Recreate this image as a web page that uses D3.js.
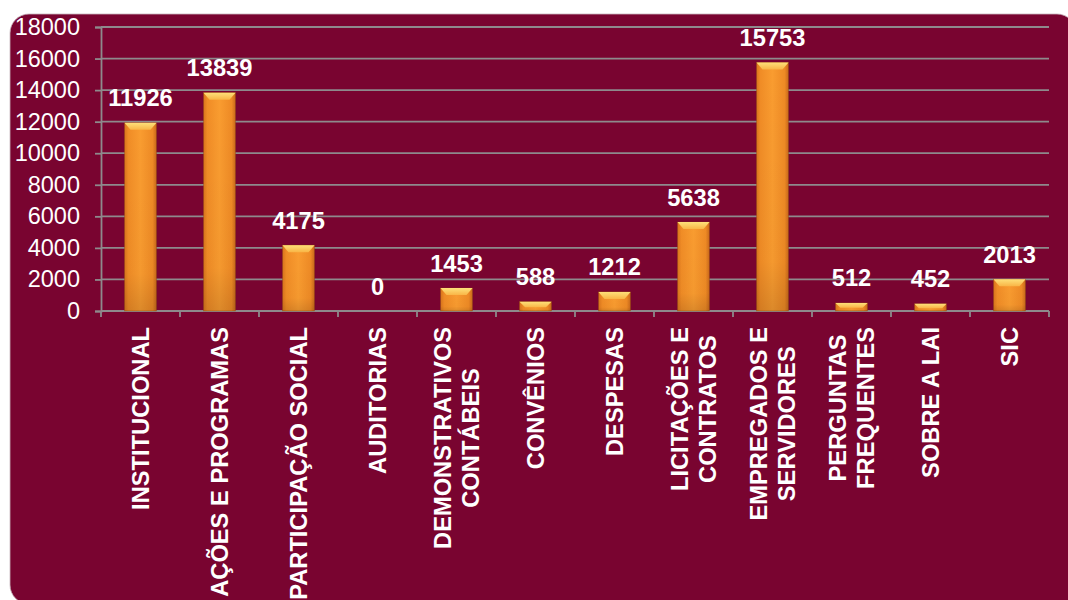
<!DOCTYPE html>
<html>
<head>
<meta charset="utf-8">
<script src="https://cdn.jsdelivr.net/npm/d3@7"></script>
<style>
  html, body { margin: 0; padding: 0; background: #ffffff; overflow: hidden; }
  svg { display: block; }
</style>
</head>
<body>
<svg id="chart" width="1068" height="600"></svg>
<script>
// Page views per section of the transparency portal
const categories = [
  ["INSTITUCIONAL"],
  ["AÇÕES E PROGRAMAS"],
  ["PARTICIPAÇÃO SOCIAL"],
  ["AUDITORIAS"],
  ["DEMONSTRATIVOS", "CONTÁBEIS"],
  ["CONVÊNIOS"],
  ["DESPESAS"],
  ["LICITAÇÕES E", "CONTRATOS"],
  ["EMPREGADOS E", "SERVIDORES"],
  ["PERGUNTAS", "FREQUENTES"],
  ["SOBRE A LAI"],
  ["SIC"]
];
const values = [11926, 13839, 4175, 0, 1453, 588, 1212, 5638, 15753, 512, 452, 2013];
const yTicks = [0, 2000, 4000, 6000, 8000, 10000, 12000, 14000, 16000, 18000];

const W = 1068, H = 600;
const plot = { left: 101, right: 1049, top: 27, bottom: 311 };
const FONT = "'Liberation Sans', Arial, sans-serif";
const gridColor = "#8e8a8c";

const svg = d3.select("#chart");
const defs = svg.append("defs");

// Bar body: darker edges, bright centre
const body = defs.append("linearGradient").attr("id", "barBody")
  .attr("x1", "0").attr("x2", "1").attr("y1", "0").attr("y2", "0");
[[0, "#d9741c"], [0.12, "#f08c26"], [0.5, "#f99c30"], [0.88, "#ee8a25"], [1, "#c8681a"]]
  .forEach(([o, c]) => body.append("stop").attr("offset", o).attr("stop-color", c));

// Vertical shading so the foot of each bar is a little darker
const shade = defs.append("linearGradient").attr("id", "barShade")
  .attr("x1", "0").attr("x2", "0").attr("y1", "0").attr("y2", "1");
[[0, "#000", 0], [0.8, "#000", 0.02], [1, "#000", 0.12]]
  .forEach(([o, c, a]) => shade.append("stop").attr("offset", o).attr("stop-color", c).attr("stop-opacity", a));

// Top bevel
const bevel = defs.append("linearGradient").attr("id", "barBevel")
  .attr("x1", "0").attr("x2", "0").attr("y1", "0").attr("y2", "1");
[[0, "#fde07a"], [1, "#f9b546"]]
  .forEach(([o, c]) => bevel.append("stop").attr("offset", o).attr("stop-color", c));

// Panel
svg.append("rect")
  .attr("x", 10).attr("y", 14)
  .attr("width", 1066).attr("height", 590)
  .attr("rx", 19).attr("ry", 19)
  .attr("fill", "#790430")
  .attr("stroke", "#c8b6be").attr("stroke-width", 0.8);

const x = d3.scaleBand()
  .domain(d3.range(categories.length))
  .range([plot.left, plot.right])
  .paddingInner(0.595)
  .paddingOuter(0.2975);

const y = d3.scaleLinear()
  .domain([0, 18000])
  .range([plot.bottom, plot.top]);

// Gridlines
svg.append("g")
  .selectAll("line")
  .data(yTicks.filter(t => t > 0))
  .join("line")
  .attr("x1", plot.left).attr("x2", plot.right)
  .attr("y1", d => y(d)).attr("y2", d => y(d))
  .attr("stroke", gridColor).attr("stroke-width", 1.8);

// Y axis
const yAxis = svg.append("g")
  .attr("transform", `translate(${plot.left},0)`)
  .call(d3.axisLeft(y).tickValues(yTicks).tickSize(6).tickPadding(15).tickFormat(d3.format("d")));
yAxis.select(".domain").attr("stroke", gridColor).attr("stroke-width", 1.8);
yAxis.selectAll(".tick line").attr("stroke", gridColor).attr("stroke-width", 1.8);
yAxis.selectAll(".tick text")
  .attr("fill", "#ffffff")
  .style("font-family", FONT)
  .style("font-size", "23.5px");

// X axis: ticks at category boundaries
const step = x.step();
const bounds = d3.range(categories.length + 1).map(i => plot.left + i * step);
svg.append("line")
  .attr("x1", plot.left).attr("x2", plot.right)
  .attr("y1", y(0)).attr("y2", y(0))
  .attr("stroke", gridColor).attr("stroke-width", 1.8);
svg.append("g")
  .selectAll("line")
  .data(bounds)
  .join("line")
  .attr("x1", d => d).attr("x2", d => d)
  .attr("y1", y(0)).attr("y2", y(0) + 6)
  .attr("stroke", gridColor).attr("stroke-width", 1.8);

// Bars
const bw = x.bandwidth();
const bars = svg.append("g")
  .selectAll("g")
  .data(values.map((v, i) => ({ v, i })).filter(d => d.v > 0))
  .join("g");

bars.append("rect")
  .attr("x", d => x(d.i)).attr("y", d => y(d.v))
  .attr("width", bw).attr("height", d => y(0) - y(d.v))
  .attr("fill", "url(#barBody)")
  .attr("stroke", "#8a4a12").attr("stroke-width", 0.6).attr("stroke-opacity", 0.6);

bars.append("rect")
  .attr("x", d => x(d.i)).attr("y", d => y(d.v))
  .attr("width", bw).attr("height", d => y(0) - y(d.v))
  .attr("fill", "url(#barShade)");

bars.append("path")
  .attr("d", d => {
    const x0 = x(d.i), y0 = y(d.v);
    const h = Math.min(7, (y(0) - y0) * 0.6);
    const inset = Math.min(6, h);
    return `M${x0},${y0}L${x0 + bw},${y0}L${x0 + bw - inset},${y0 + h}L${x0 + inset},${y0 + h}Z`;
  })
  .attr("fill", "url(#barBevel)");

// Value labels
svg.append("g")
  .selectAll("text")
  .data(values)
  .join("text")
  .attr("x", (d, i) => x(i) + bw / 2)
  .attr("y", d => y(d) - 16.5)
  .attr("text-anchor", "middle")
  .attr("fill", "#ffffff")
  .style("font-family", FONT)
  .style("font-weight", "bold")
  .style("font-size", "23.7px")
  .text(d => d);

// Category labels, rotated, top-aligned below the axis
const labelTop = 327;
const lineGap = 28;
const lab = svg.append("g")
  .style("font-family", FONT)
  .style("font-weight", "bold")
  .style("font-size", "23.7px")
  .attr("fill", "#ffffff");

categories.forEach((lines, i) => {
  const cx = x(i) + bw / 2;
  const g = lab.append("g");
  const texts = lines.map((ln, j) => g.append("text")
    .attr("text-anchor", "middle")
    .attr("dominant-baseline", "central")
    .text(ln));
  const maxLen = d3.max(texts, t => t.node().getComputedTextLength());
  texts.forEach((t, j) => {
    const lx = cx + (j - (lines.length - 1) / 2) * lineGap;
    const ly = labelTop + maxLen / 2;
    t.attr("transform", `translate(${lx},${ly}) rotate(-90)`);
  });
});
</script>
</body>
</html>
